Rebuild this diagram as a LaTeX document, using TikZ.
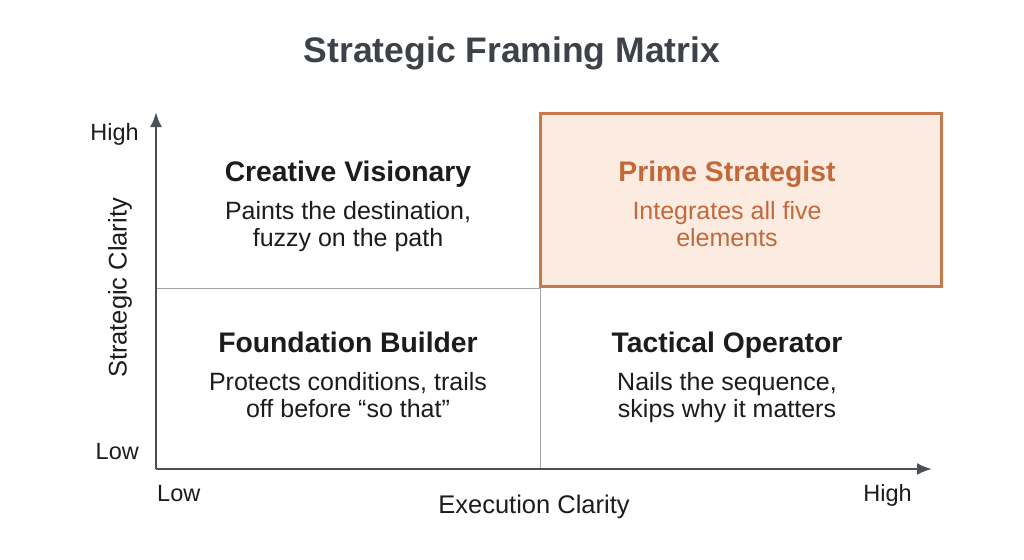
\documentclass[tikz,border=0pt]{standalone}
\usepackage{fontspec}
\setmainfont{Liberation Sans}
\usetikzlibrary{arrows.meta}
\definecolor{titlegray}{HTML}{3D4248}
\definecolor{axisgray}{HTML}{4A5055}
\definecolor{gridgray}{HTML}{A0A4A8}
\definecolor{txt}{HTML}{1C1C1C}
\definecolor{orangetxt}{HTML}{C2693C}
\definecolor{orangebd}{HTML}{C8784A}
\definecolor{orangefill}{HTML}{FCEBE1}
\tikzset{
  head/.style={font=\fontsize{28.3}{31}\selectfont\bfseries, text=txt, anchor=base, inner sep=0pt},
  body/.style={font=\fontsize{25}{27}\selectfont, text=txt, align=center, anchor=north, inner sep=0pt},
  axlabel/.style={font=\fontsize{23.5}{26}\selectfont, text=txt, inner sep=0pt},
  axtitle/.style={font=\fontsize{25.5}{28}\selectfont, text=txt, inner sep=0pt},
  axisline/.style={draw=axisgray, line width=2.5pt, -{Latex[length=15pt,width=12pt]}},
  gridline/.style={draw=gridgray, line width=1pt},
}
\begin{document}
\begin{tikzpicture}[x=1pt,y=-1pt]
\useasboundingbox[fill=white] (0,0) rectangle (1024,559);
% title
\node[font=\fontsize{35.5}{38}\selectfont\bfseries, text=titlegray, inner sep=0pt, anchor=base] (title) at (512,63) {Strategic Framing Matrix};
% highlight box
\node[draw=orangebd, fill=orangefill, line width=2.2pt, minimum width=401pt, minimum height=173pt, inner sep=0pt] (prime) at (741,200) {};
% coordinates
\coordinate (origin) at (156,469);
\coordinate (ytop) at (156,112);
\coordinate (xend) at (932,469);
\coordinate (midtop) at (540,288);
\coordinate (midbot) at (540,469);
\coordinate (midleft) at (156,288);
% grid lines
\draw[gridline] (midleft) -- (midtop);
\draw[gridline] (midtop) -- (midbot);
% axes
\draw[axisline] (origin) -- (ytop);
\draw[axisline] (origin) -- (xend);
% axis labels
\node[axlabel, anchor=base east] (yhigh) at (139,140) {High};
\node[axlabel, anchor=base east] (ylow) at (139,459) {Low};
\node[axlabel, anchor=base west] (xlow) at (157,501) {Low};
\node[axlabel, anchor=base east] (xhigh) at (912,501) {High};
\node[axtitle] (xlab) at (534,507) {Execution Clarity};
\node[axtitle, rotate=90] (ylab) at (120,288) {Strategic Clarity};
% quadrants
\node[head] (cvh) at (348,181) {Creative Visionary};
\node[body] (cvb) at (348,201) {Paints the destination,\\fuzzy on the path};
\node[head, text=orangetxt] (psh) at (727,181) {Prime Strategist};
\node[body, text=orangetxt] (psb) at (727,201) {Integrates all five\\elements};
\node[head] (fbh) at (348,352) {Foundation Builder};
\node[body] (fbb) at (348,372) {Protects conditions, trails\\off before “so that”};
\node[head] (toh) at (727,352) {Tactical Operator};
\node[body] (tob) at (727,372) {Nails the sequence,\\skips why it matters};
\end{tikzpicture}
\end{document}
